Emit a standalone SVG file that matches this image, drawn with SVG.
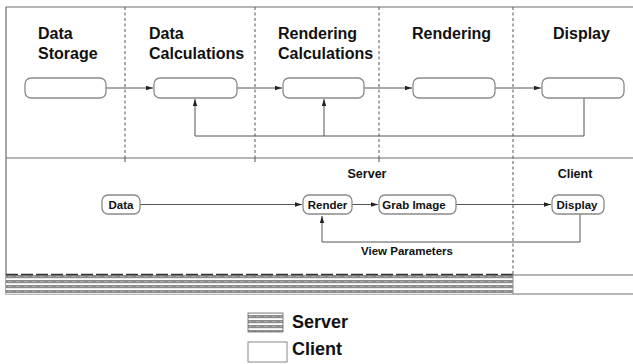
<svg xmlns="http://www.w3.org/2000/svg" width="633" height="364" viewBox="0 0 633 364">
<style>
.frame{fill:none;stroke:#6e6e6e;stroke-width:1.2}
.dash{fill:none;stroke:#555;stroke-width:1;stroke-dasharray:3,2.5}
.box{fill:#fff;stroke:#8a8a8a;stroke-width:1.3}
.conn{fill:none;stroke:#555;stroke-width:1}
.h{font-family:"Liberation Sans",Arial,sans-serif;font-weight:bold;font-size:16px;fill:#111}
.m{font-family:"Liberation Sans",Arial,sans-serif;font-weight:bold;font-size:12.5px;fill:#111}
.s{font-family:"Liberation Sans",Arial,sans-serif;font-weight:bold;font-size:11.5px;fill:#111}
.lg{font-family:"Liberation Sans",Arial,sans-serif;font-weight:bold;font-size:18px;fill:#111}
</style>
<defs>
<marker id="ah" markerWidth="8" markerHeight="6" refX="7" refY="3" orient="auto" markerUnits="userSpaceOnUse">
<path d="M0,0.8 L7,3 L0,5.2 Z" fill="#222"/>
</marker>
<pattern id="stripes" width="8" height="5" patternUnits="userSpaceOnUse" y="275">
<rect width="8" height="5" fill="#fff"/>
<rect y="0" width="8" height="3.2" fill="#8c8c8c"/>
<rect y="1.4" width="4" height="0.6" fill="#b8b8b8"/>
</pattern>
</defs>
<rect width="633" height="364" fill="#fff"/>

<g id="frame">
<path class="frame" d="M633,7 H6 V294 H633"/>
<line class="frame" x1="6" y1="158" x2="633" y2="158"/>
<line class="frame" x1="513" y1="275" x2="633" y2="275"/>
<line class="dash" x1="125" y1="7" x2="125" y2="158"/>
<line class="dash" x1="255" y1="7" x2="255" y2="158"/>
<line class="dash" x1="379" y1="7" x2="379" y2="158"/>
<line class="dash" x1="513" y1="7" x2="513" y2="275"/>
<line class="frame" x1="125" y1="158" x2="125" y2="162"/>
<line class="frame" x1="255" y1="158" x2="255" y2="162"/>
<line class="frame" x1="379" y1="158" x2="379" y2="162"/>
</g>

<g id="server-bar">
<rect x="6" y="274" width="507" height="20" fill="url(#stripes)"/>
<line x1="6" y1="274.5" x2="513" y2="274.5" stroke="#333" stroke-width="1.5" stroke-dasharray="12,3"/>
<line x1="513" y1="274" x2="513" y2="294" stroke="#888" stroke-width="1"/>
</g>

<g id="headers">
<text class="h" x="38" y="39">Data</text>
<text class="h" x="38" y="59">Storage</text>
<text class="h" x="149" y="39">Data</text>
<text class="h" x="149" y="59">Calculations</text>
<text class="h" x="278" y="39">Rendering</text>
<text class="h" x="278" y="59">Calculations</text>
<text class="h" x="412" y="39">Rendering</text>
<text class="h" x="553" y="39">Display</text>
</g>

<g id="connectors">
<line class="conn" x1="106" y1="88" x2="153" y2="88" marker-end="url(#ah)"/>
<line class="conn" x1="237" y1="88" x2="282" y2="88" marker-end="url(#ah)"/>
<line class="conn" x1="364" y1="88" x2="412" y2="88" marker-end="url(#ah)"/>
<line class="conn" x1="495" y1="88" x2="541" y2="88" marker-end="url(#ah)"/>
<path class="conn" d="M584,98 V136 H195 V99" marker-end="url(#ah)"/>
<path class="conn" d="M324,136 V99" marker-end="url(#ah)"/>
<line class="conn" x1="140" y1="204.5" x2="302" y2="204.5" marker-end="url(#ah)"/>
<line class="conn" x1="352" y1="204.5" x2="378" y2="204.5" marker-end="url(#ah)"/>
<line class="conn" x1="456" y1="204.5" x2="551" y2="204.5" marker-end="url(#ah)"/>
<path class="conn" d="M580,214 V242 H322 V216" marker-end="url(#ah)"/>
</g>

<g id="node-storage"><rect class="box" x="25" y="78" width="81" height="20" rx="6"/></g>
<g id="node-datacalc"><rect class="box" x="154" y="78" width="83" height="20" rx="6"/></g>
<g id="node-rendercalc"><rect class="box" x="283" y="78" width="81" height="20" rx="6"/></g>
<g id="node-rendering"><rect class="box" x="413" y="78" width="82" height="20" rx="6"/></g>
<g id="node-display-top"><rect class="box" x="542" y="78" width="82" height="20" rx="6"/></g>

<g id="labels-lower">
<text class="m" x="367" y="178" text-anchor="middle">Server</text>
<text class="m" x="575" y="178" text-anchor="middle">Client</text>
<text class="s" x="407" y="255" text-anchor="middle">View Parameters</text>
</g>

<g id="node-data"><rect class="box" x="102" y="195" width="38" height="19" rx="6"/><text class="s" x="121" y="208.5" text-anchor="middle">Data</text></g>
<g id="node-render"><rect class="box" x="303" y="195" width="49" height="19" rx="6"/><text class="s" x="327.5" y="208.5" text-anchor="middle">Render</text></g>
<g id="node-grab"><rect class="box" x="379" y="195" width="77" height="19" rx="6"/><text class="s" x="414" y="208.5" text-anchor="middle">Grab Image</text></g>
<g id="node-display"><rect class="box" x="552" y="195" width="52" height="19" rx="6"/><text class="s" x="577" y="208.5" text-anchor="middle">Display</text></g>

<g id="legend">
<rect x="248" y="313" width="35" height="19" fill="url(#stripes)" stroke="#666" stroke-width="0.8"/>
<text class="lg" x="292" y="328">Server</text>
<rect x="248" y="342" width="39" height="20" fill="#fff" stroke="#888" stroke-width="1"/>
<text class="lg" x="292" y="355">Client</text>
</g>
</svg>
